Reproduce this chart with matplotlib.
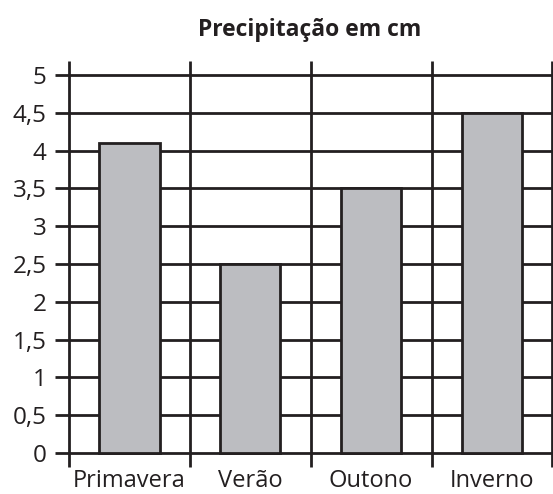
import matplotlib.pyplot as plt
import numpy as np

categorias = ["Primavera", "Verão", "Outono", "Inverno"]
precipitacao = [4.1, 2.5, 3.5, 4.5]
y_ticks = [0, 0.5, 1, 1.5, 2, 2.5, 3, 3.5, 4, 4.5, 5]
y_labels = ["0", "0,5", "1", "1,5", "2", "2,5", "3", "3,5", "4", "4,5", "5"]

plt.rcParams['font.family'] = ['Open Sans', 'DejaVu Sans']
cor_linha = "#231f20"

fig = plt.figure(figsize=(5.53, 4.94), dpi=100)
ax = fig.add_axes([55 / 553, 27 / 494, 498 / 553, 406 / 494])

x = np.arange(len(categorias))
x_min, x_max = -0.615, 3.505
y_min, y_max = -0.185, 5.185

# grade
ax.hlines(y_ticks, x_min, 3.5, color=cor_linha, lw=2.0, zorder=1, clip_on=False)
ax.vlines(np.arange(-0.5, len(categorias)), y_min, y_max, color=cor_linha, lw=2.0,
          zorder=1, clip_on=False)

# barras
ax.bar(x, precipitacao, width=0.5, color="#bcbdc1", edgecolor=cor_linha,
       linewidth=2.0, zorder=2)

ax.set_xlim(x_min, x_max)
ax.set_ylim(y_min, y_max)
ax.set_yticks(y_ticks, y_labels, fontsize=17.5, color=cor_linha)
ax.set_xticks(x, categorias, fontsize=17, color=cor_linha)
ax.tick_params(axis="y", length=0, pad=6)
ax.tick_params(axis="x", length=0, pad=1.5)
for s in ax.spines.values():
    s.set_visible(False)

fig.text(310 / 553, 1 - 30 / 494, "Precipitação em cm", ha="center", va="center",
         fontsize=16.5, fontweight="bold", color=cor_linha)

plt.savefig("out.png", dpi=100)
